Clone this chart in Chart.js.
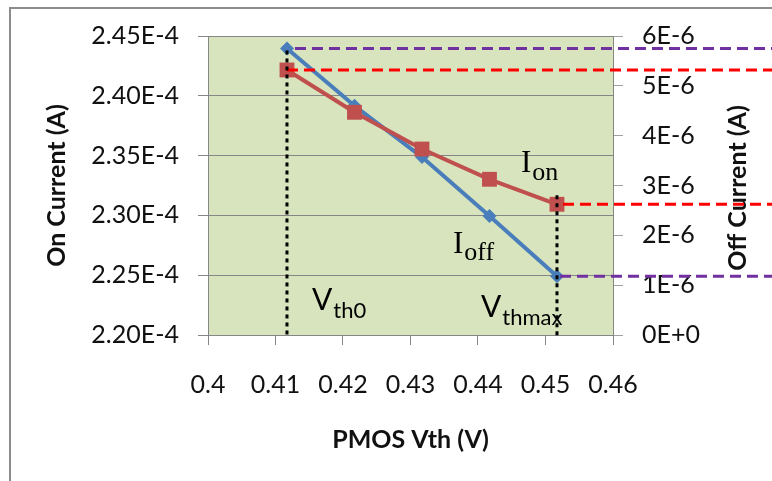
<!DOCTYPE html>
<html>
<head>
<meta charset="utf-8">
<script src="https://cdn.jsdelivr.net/npm/chart.js@4.4.1/dist/chart.umd.min.js"></script>
<style>
  body { margin: 0; background: #fff; }
</style>
</head>
<body>
<canvas id="myChart" width="772" height="481"></canvas>
<script>
const vth = [0.4117, 0.4217, 0.4317, 0.4417, 0.4517];
const onCurrent = [2.4216e-4, 2.3862e-4, 2.3555e-4, 2.3302e-4, 2.3093e-4];
const offCurrent = [5.75e-6, 4.60e-6, 3.57e-6, 2.39e-6, 1.18e-6];
const xTickLabels = ['0.4', '0.41', '0.42', '0.43', '0.44', '0.45', '0.46'];
const onTickLabels = ['2.20E-4', '2.25E-4', '2.30E-4', '2.35E-4', '2.40E-4', '2.45E-4'];
const offTickLabels = ['0E+0', '1E-6', '2E-6', '3E-6', '4E-6', '5E-6', '6E-6'];

const sans = 'Lato, "Liberation Sans", sans-serif';
const serif = '"Liberation Serif", "DejaVu Serif", serif';
const gridGray = '#868686';

// text with a subscript
function subText(ctx, main, sub, x, base, mainFont, subFont, drop) {
  ctx.font = mainFont;
  ctx.fillText(main, x, base);
  const w = ctx.measureText(main).width;
  ctx.font = subFont;
  ctx.fillText(sub, x + w + 1, base + drop);
}

const overlay = {
  id: 'overlay',
  beforeDraw(chart) {
    const {ctx, chartArea: a} = chart;
    ctx.save();
    ctx.fillStyle = '#fff';
    ctx.fillRect(0, 0, chart.width, chart.height);
    ctx.strokeStyle = '#8c8c8c';
    ctx.lineWidth = 2;
    ctx.strokeRect(10, 8, 1000, 1000);
    ctx.fillStyle = '#D7E4BD';
    ctx.fillRect(a.left, a.top, a.right - a.left, a.bottom - a.top);
    ctx.restore();
  },
  afterDraw(chart) {
    const {ctx, chartArea: a} = chart;
    const {x, y, y1} = chart.scales;
    const n = vth.length - 1;
    const x0 = x.getPixelForValue(vth[0]);
    const xn = x.getPixelForValue(vth[n]);
    ctx.save();

    // right axis title, reads bottom to top
    ctx.save();
    ctx.translate(738, 188);
    ctx.rotate(-Math.PI / 2);
    ctx.font = 'bold 25px ' + sans;
    ctx.fillStyle = '#111';
    ctx.textAlign = 'center';
    ctx.textBaseline = 'middle';
    ctx.fillText('Off Current (A)', 0, 0);
    ctx.restore();

    // dashed guides out to the edge
    ctx.lineWidth = 3;
    ctx.setLineDash([11, 6]);
    const hline = (color, x1, yy) => {
      ctx.strokeStyle = color;
      ctx.beginPath();
      ctx.moveTo(x1, yy);
      ctx.lineTo(chart.width, yy);
      ctx.stroke();
    };
    hline('#7030A0', x0 + 8, y1.getPixelForValue(offCurrent[0]));
    hline('#FF0000', x0, y.getPixelForValue(onCurrent[0]));
    hline('#FF0000', xn + 6, y.getPixelForValue(onCurrent[n]));
    hline('#7030A0', xn + 3, y1.getPixelForValue(offCurrent[n]));

    // dotted verticals
    ctx.strokeStyle = '#000';
    ctx.setLineDash([4, 4]);
    const vline = (xx, ya, yb) => {
      ctx.beginPath();
      ctx.moveTo(xx, ya);
      ctx.lineTo(xx, yb);
      ctx.stroke();
    };
    vline(x0, y1.getPixelForValue(offCurrent[0]) + 2, a.bottom + 2);
    vline(xn, y.getPixelForValue(onCurrent[n]) - 9, a.bottom + 3);
    ctx.setLineDash([]);

    // labels
    ctx.fillStyle = '#000';
    ctx.textAlign = 'left';
    ctx.textBaseline = 'alphabetic';
    subText(ctx, 'I', 'on', 521, 172, '31px ' + serif, '26px ' + serif, 8);
    subText(ctx, 'I', 'off', 453, 253, '31px ' + serif, '26px ' + serif, 7);
    subText(ctx, 'V', 'th0', 312, 310, '30px ' + sans, '22px ' + sans, 8);
    subText(ctx, 'V', 'thmax', 481, 317, '30px ' + sans, '22px ' + sans, 8);
    ctx.restore();
  }
};

const ctx = document.getElementById('myChart');

new Chart(ctx, {
  type: 'line',
  data: {
    datasets: [{
      label: 'Ion',
      data: vth.map((v, i) => ({x: v, y: onCurrent[i]})),
      yAxisID: 'y',
      borderColor: '#C0504D',
      backgroundColor: '#C0504D',
      borderWidth: 4,
      pointStyle: 'rect',
      pointRadius: 10.5,
      pointBorderWidth: 0
    }, {
      label: 'Ioff',
      data: vth.map((v, i) => ({x: v, y: offCurrent[i]})),
      yAxisID: 'y1',
      borderColor: '#4A7EBB',
      backgroundColor: '#4A7EBB',
      borderWidth: 4,
      pointStyle: 'rectRot',
      pointRadius: 7,
      pointBorderWidth: 0
    }]
  },
  options: {
    responsive: false,
    animation: false,
    devicePixelRatio: 1,
    layout: { padding: { left: 0, right: 0, top: 36, bottom: 0 } },
    plugins: {
      legend: { display: false },
      tooltip: { enabled: false }
    },
    scales: {
      x: {
        type: 'linear',
        min: 0.4,
        max: 0.46,
        ticks: {
          stepSize: 0.01,
          padding: 25,
          color: '#111',
          font: { family: sans, size: 25 },
          callback: (v, i) => xTickLabels[i]
        },
        grid: { drawOnChartArea: false, tickLength: 10, color: gridGray },
        border: { color: gridGray },
        title: {
          display: true,
          text: 'PMOS Vth (V)',
          color: '#111',
          font: { family: sans, size: 25, weight: 'bold' },
          padding: { top: 0, bottom: 26 }
        },
        afterFit: s => { s.height = 146; }
      },
      y: {
        position: 'left',
        min: 2.20e-4,
        max: 2.45e-4,
        ticks: {
          stepSize: 0.05e-4,
          padding: 19,
          color: '#111',
          font: { family: sans, size: 25 },
          callback: (v, i) => onTickLabels[i]
        },
        grid: { tickLength: 10, color: gridGray },
        border: { color: gridGray },
        title: {
          display: true,
          text: 'On Current (A)',
          color: '#111',
          font: { family: sans, size: 25, weight: 'bold' },
          padding: { top: 42, bottom: 0 }
        },
        afterFit: s => { s.width = 208; }
      },
      y1: {
        position: 'right',
        min: 0,
        max: 6e-6,
        ticks: {
          stepSize: 1e-6,
          padding: 19,
          color: '#111',
          font: { family: sans, size: 25 },
          callback: (v, i) => offTickLabels[i]
        },
        grid: { drawOnChartArea: false, tickLength: 10, color: '#a0a0a0' },
        border: { color: gridGray },
        afterFit: s => { s.width = 159; }
      }
    }
  },
  plugins: [overlay]
});
</script>
</body>
</html>
